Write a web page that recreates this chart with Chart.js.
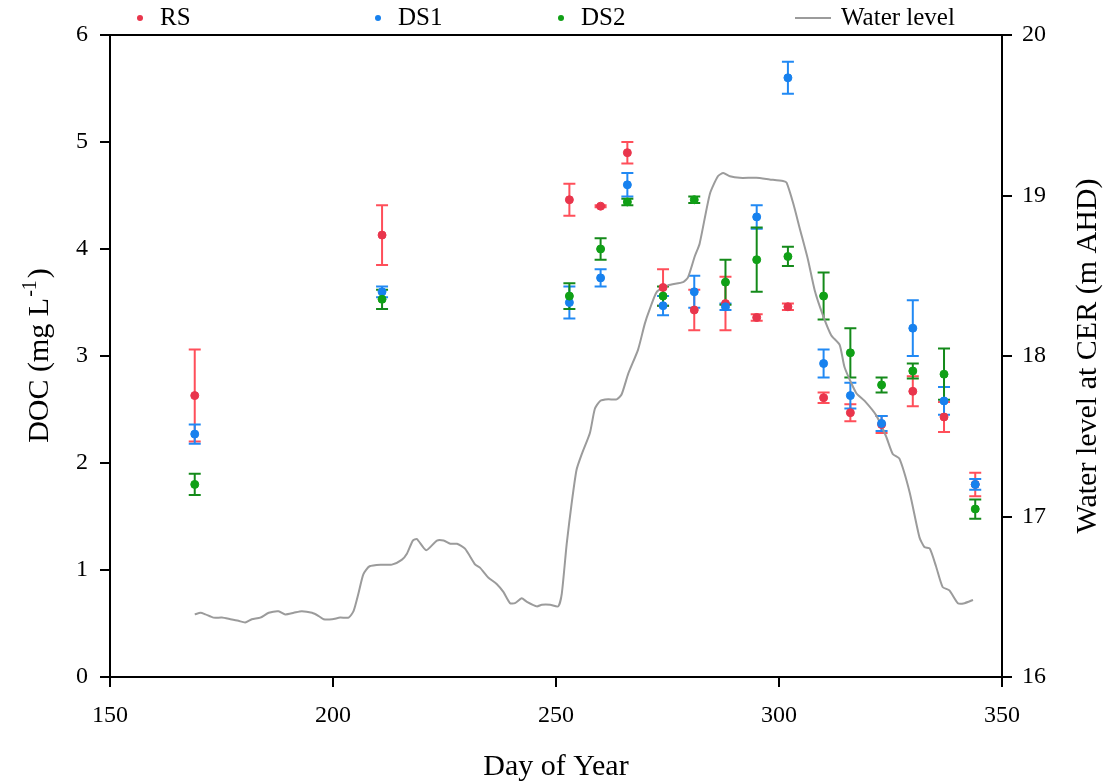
<!DOCTYPE html>
<html>
<head>
<meta charset="utf-8">
<script src="https://cdn.jsdelivr.net/npm/chart.js@4.4.1/dist/chart.umd.min.js"></script>
<style>
    html, body { margin: 0; padding: 0; background: #fff; }
</style>
</head>
<body>
<canvas id="docChart" width="1109" height="782"></canvas>
<script>
/*
|--------------------------------------------------------------------------
| Data
|--------------------------------------------------------------------------
*/

const sampleDays = [169, 211, 253, 260, 266, 274, 281, 288, 295, 302, 310, 316, 323, 330, 337, 344];

const rsDoc = [2.63, 4.13, 4.46, 4.40, 4.90, 3.64, 3.43, 3.49, 3.36, 3.46, 2.61, 2.47, 2.36, 2.67, 2.43, 1.80];
const rsErr = [0.43, 0.28, 0.15, 0.01, 0.10, 0.17, 0.19, 0.25, 0.03, 0.03, 0.05, 0.08, 0.08, 0.14, 0.14, 0.11];

const ds1Doc = [2.27, 3.60, 3.50, 3.73, 4.60, 3.47, 3.60, 3.46, 4.30, 5.60, 2.93, 2.63, 2.37, 3.26, 2.58, 1.80];
const ds1Err = [0.09, 0.05, 0.15, 0.08, 0.11, 0.09, 0.15, 0.03, 0.11, 0.15, 0.13, 0.12, 0.07, 0.26, 0.13, 0.05];

const ds2Doc = [1.80, 3.53, 3.56, 4.00, 4.44, 3.56, 4.46, 3.69, 3.90, 3.93, 3.56, 3.03, 2.73, 2.86, 2.83, 1.57];
const ds2Err = [0.10, 0.09, 0.12, 0.10, 0.03, 0.09, 0.03, 0.21, 0.30, 0.09, 0.22, 0.23, 0.07, 0.07, 0.24, 0.09];

const wlDays = [
    169.0, 170.3, 171.4, 173.2, 175.1, 177.0, 178.8, 180.3, 181.8, 183.7,
    185.6, 187.8, 189.3, 191.2, 193.0, 195.3, 196.8, 197.9, 199.8, 201.6,
    203.5, 204.6, 205.7, 206.8, 208.2, 211.0, 213.2, 215.4, 216.6, 217.9,
    218.8, 220.9, 223.3, 224.8, 226.3, 227.8, 229.6, 231.9, 233.0, 234.8,
    236.7, 238.2, 239.7, 240.8, 242.3, 243.4, 245.7, 246.8, 248.7, 250.5,
    251.3, 252.4, 253.5, 254.6, 255.8, 257.6, 258.7, 259.9, 261.7, 263.6,
    264.7, 266.2, 268.4, 269.9, 271.0, 272.6, 275.1, 278.5, 279.6, 281.1,
    282.2, 284.5, 286.3, 287.5, 289.0, 291.2, 294.9, 297.9, 300.9, 301.7,
    303.2, 304.7, 306.5, 308.0, 309.9, 311.7, 313.6, 314.7, 317.3, 319.2,
    321.8, 324.0, 325.5, 327.0, 329.3, 331.5, 332.6, 333.8, 335.2, 336.7,
    338.2, 340.1, 341.6, 343.5,
];

const wlLevels = [
    16.39, 16.40, 16.39, 16.37, 16.37, 16.36, 16.35, 16.34, 16.36, 16.37,
    16.40, 16.41, 16.39, 16.40, 16.41, 16.40, 16.38, 16.36, 16.36, 16.37,
    16.37, 16.41, 16.52, 16.64, 16.69, 16.70, 16.70, 16.73, 16.77, 16.85,
    16.86, 16.79, 16.85, 16.85, 16.83, 16.83, 16.80, 16.70, 16.68, 16.62,
    16.58, 16.53, 16.46, 16.46, 16.49, 16.47, 16.44, 16.45, 16.45, 16.44,
    16.52, 16.83, 17.08, 17.29, 17.39, 17.52, 17.67, 17.72, 17.73, 17.73,
    17.76, 17.89, 18.04, 18.20, 18.29, 18.40, 18.44, 18.46, 18.49, 18.62,
    18.70, 19.01, 19.12, 19.14, 19.12, 19.11, 19.11, 19.10, 19.09, 19.08,
    18.95, 18.79, 18.60, 18.41, 18.25, 18.13, 18.07, 17.93, 17.77, 17.72,
    17.63, 17.50, 17.39, 17.36, 17.15, 16.87, 16.81, 16.80, 16.69, 16.56,
    16.54, 16.46, 16.46, 16.48,
];

const docTicks = [0, 1, 2, 3, 4, 5, 6];
const levelTicks = [16, 17, 18, 19, 20];
const dayTicks = [150, 200, 250, 300, 350];

const COLORS = {
    rs: "#e9354c",
    rsErr: "#ff4f5a",
    ds1: "#1781ee",
    ds1Err: "#2189f4",
    ds2: "#10a016",
    ds2Err: "#148a1a",
    water: "#9b9b9b",
};

const FONT = '"Liberation Serif", "Times New Roman", serif';

/*
|--------------------------------------------------------------------------
| Plugins
|--------------------------------------------------------------------------
*/

// error bars, drawn under the dots through the chart's own scales
const errorBars = {
    id: "errorBars",

    beforeDatasetsDraw(chart) {
        const { ctx, scales } = chart;

        ctx.save();
        ctx.lineWidth = 2;

        chart.data.datasets.forEach((ds) => {
            if (!ds.errors) return;

            ctx.strokeStyle = ds.errorColor;

            ds.data.forEach((p, i) => {
                const e = ds.errors[i];
                const x = scales.x.getPixelForValue(p.x);
                const yHi = scales.y.getPixelForValue(p.y + e);
                const yLo = scales.y.getPixelForValue(p.y - e);

                ctx.beginPath();
                ctx.moveTo(x, yHi);
                ctx.lineTo(x, yLo);
                ctx.moveTo(x - 6, yHi);
                ctx.lineTo(x + 6, yHi);
                ctx.moveTo(x - 6, yLo);
                ctx.lineTo(x + 6, yLo);
                ctx.stroke();
            });
        });

        ctx.restore();
    },
};

// frame top, both vertical titles and the row legend
const decorations = {
    id: "decorations",

    afterDraw(chart) {
        const { ctx, chartArea } = chart;
        const midY = (chartArea.top + chartArea.bottom) / 2;

        ctx.save();

        ctx.strokeStyle = "#000";
        ctx.lineWidth = 2;
        ctx.beginPath();
        ctx.moveTo(chartArea.left - 1, chartArea.top);
        ctx.lineTo(chartArea.right + 1, chartArea.top);
        ctx.stroke();

        ctx.fillStyle = "#000";
        ctx.textBaseline = "alphabetic";

        // left title with a real superscript
        const big = "30px " + FONT;
        const small = "20px " + FONT;
        ctx.font = big;
        const wMain = ctx.measureText("DOC (mg L").width;
        const wClose = ctx.measureText(")").width;
        ctx.font = small;
        const wSup = ctx.measureText("-1").width + 2;
        const total = wMain + wSup + wClose;

        ctx.translate(48, midY);
        ctx.rotate(-Math.PI / 2);
        let x = -total / 2;
        ctx.textAlign = "left";
        ctx.font = big;
        ctx.fillText("DOC (mg L", x, 0);
        x += wMain + 1;
        ctx.font = small;
        ctx.fillText("-1", x, -12);
        x += wSup;
        ctx.font = big;
        ctx.fillText(")", x, 0);
        ctx.setTransform(1, 0, 0, 1, 0, 0);

        // right title, reading upwards
        ctx.font = big;
        ctx.textAlign = "center";
        ctx.translate(1096, midY);
        ctx.rotate(-Math.PI / 2);
        ctx.fillText("Water level at CER (m AHD)", 0, 0);
        ctx.setTransform(1, 0, 0, 1, 0, 0);

        // legend row
        const slots = [140, 378, 561, 795];
        const y = 18;

        ctx.font = "25px " + FONT;
        ctx.textAlign = "left";
        ctx.textBaseline = "middle";

        chart.data.datasets.forEach((ds, i) => {
            const lx = slots[i];

            if (ds.type === "line") {
                ctx.strokeStyle = ds.borderColor;
                ctx.lineWidth = 2;
                ctx.beginPath();
                ctx.moveTo(lx, y);
                ctx.lineTo(lx + 36, y);
                ctx.stroke();
                ctx.fillStyle = "#000";
                ctx.fillText(ds.label, lx + 46, y);
            } else {
                ctx.fillStyle = ds.backgroundColor;
                ctx.beginPath();
                ctx.arc(lx, y, 3, 0, Math.PI * 2);
                ctx.fill();
                ctx.fillStyle = "#000";
                ctx.fillText(ds.label, lx + 20, y);
            }
        });

        ctx.restore();
    },
};

/*
|--------------------------------------------------------------------------
| Chart
|--------------------------------------------------------------------------
*/

const toPoints = (xs, ys) => xs.map((x, i) => ({ x, y: ys[i] }));

const axisGrid = {
    drawOnChartArea: false,
    drawTicks: true,
    tickLength: 10,
    color: "#000",
    lineWidth: 2,
};

const tickFont = { family: FONT, size: 24 };

new Chart(document.getElementById("docChart"), {
    type: "scatter",

    data: {
        datasets: [
            {
                label: "RS",
                data: toPoints(sampleDays, rsDoc),
                errors: rsErr,
                errorColor: COLORS.rsErr,
                backgroundColor: COLORS.rs,
                borderColor: COLORS.rs,
                pointRadius: 4,
                yAxisID: "y",
                order: 3,
            },

            {
                label: "DS1",
                data: toPoints(sampleDays, ds1Doc),
                errors: ds1Err,
                errorColor: COLORS.ds1Err,
                backgroundColor: COLORS.ds1,
                borderColor: COLORS.ds1,
                pointRadius: 4,
                yAxisID: "y",
                order: 2,
            },

            {
                label: "DS2",
                data: toPoints(sampleDays, ds2Doc),
                errors: ds2Err,
                errorColor: COLORS.ds2Err,
                backgroundColor: COLORS.ds2,
                borderColor: COLORS.ds2,
                pointRadius: 4,
                yAxisID: "y",
                order: 1,
            },

            {
                label: "Water level",
                type: "line",
                data: toPoints(wlDays, wlLevels),
                borderColor: COLORS.water,
                borderWidth: 2,
                pointRadius: 0,
                tension: 0.2,
                yAxisID: "y2",
                order: 4,
            },
        ],
    },

    options: {
        responsive: false,
        animation: false,
        devicePixelRatio: 1,

        layout: {
            padding: { top: 35, left: 0, right: 0, bottom: 0 },
        },

        plugins: {
            legend: { display: false },
            tooltip: { enabled: false },
        },

        scales: {
            x: {
                type: "linear",
                position: "bottom",
                min: 150,
                max: 350,
                afterBuildTicks: (s) => {
                    s.ticks = dayTicks.map((v) => ({ value: v }));
                },
                afterFit: (s) => {
                    s.height = 105;
                },
                ticks: { color: "#000", font: tickFont, padding: 14 },
                grid: axisGrid,
                border: { color: "#000", width: 2 },
                title: {
                    display: true,
                    text: "Day of Year",
                    color: "#000",
                    font: { family: FONT, size: 30, lineHeight: 1 },
                    padding: { top: 0, bottom: 0 },
                },
            },

            y: {
                position: "left",
                min: 0,
                max: 6,
                afterBuildTicks: (s) => {
                    s.ticks = docTicks.map((v) => ({ value: v }));
                },
                afterFit: (s) => {
                    s.width = 110;
                },
                ticks: { color: "#000", font: tickFont, padding: 12 },
                grid: axisGrid,
                border: { color: "#000", width: 2 },
            },

            y2: {
                position: "right",
                min: 16,
                max: 20,
                afterBuildTicks: (s) => {
                    s.ticks = levelTicks.map((v) => ({ value: v }));
                },
                afterFit: (s) => {
                    s.width = 107;
                },
                ticks: { color: "#000", font: tickFont, padding: 10 },
                grid: axisGrid,
                border: { color: "#000", width: 2 },
            },
        },
    },

    plugins: [errorBars, decorations],
});
</script>
</body>
</html>
